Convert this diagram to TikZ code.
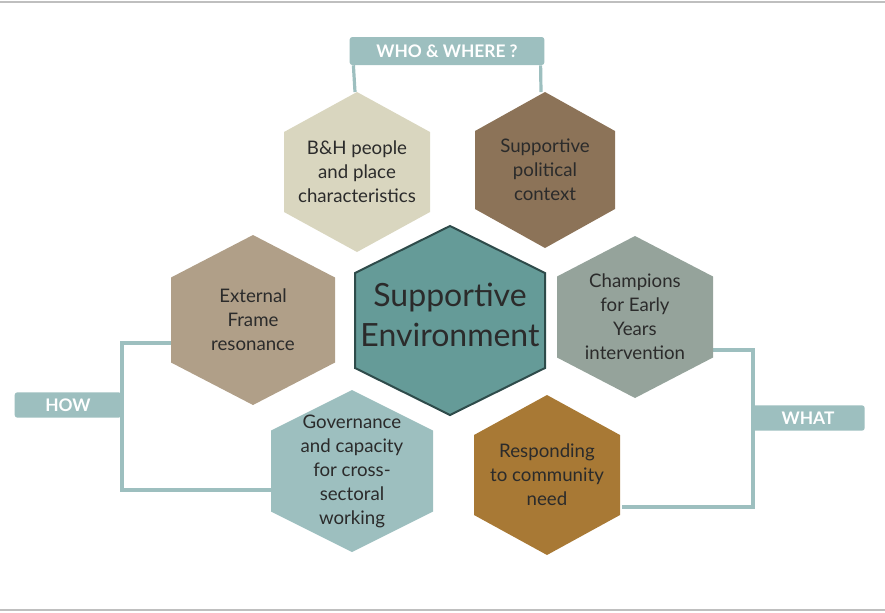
\documentclass[tikz,border=0pt]{standalone}
\usepackage{fontspec}
\setmainfont{Lato}
\usetikzlibrary{positioning,calc}
\definecolor{hexSand}{HTML}{D9D6BF}
\definecolor{hexBrown}{HTML}{8C7358}
\definecolor{hexTaupe}{HTML}{B09F88}
\definecolor{hexTeal}{HTML}{659B98}
\definecolor{hexTealDk}{HTML}{2E4B4A}
\definecolor{hexSage}{HTML}{95A39B}
\definecolor{hexIce}{HTML}{9DBFBF}
\definecolor{hexOchre}{HTML}{A87935}
\definecolor{txtDark}{HTML}{2B2B2B}
\tikzset{
  hextext/.style={align=center, font=\fontsize{14}{18}\selectfont, text=txtDark},
  tagbox/.style={fill=hexIce, text=white, rounded corners=2pt,
                 font=\fontsize{13}{15}\selectfont\bfseries, inner sep=0pt},
  linkline/.style={draw=hexIce, line width=2.4pt},
}
% name, x, y, half width, half height, fill, text
\newcommand\hexcell[7]{%
  \fill[#6] (#2,#3-#5) -- (#2+#4,#3-#5/2) -- (#2+#4,#3+#5/2) -- (#2,#3+#5)
    -- (#2-#4,#3+#5/2) -- (#2-#4,#3-#5/2) -- cycle;
  \node[hextext] (#1) at (#2,#3) {#7};}

\begin{document}
\begin{tikzpicture}[x=0.75pt, y=-0.75pt]
\useasboundingbox (0,0) rectangle (885,612);
\draw[gray!50, line width=0.8pt] (0,2) -- (885,2);
\draw[gray!50, line width=0.8pt] (0,610) -- (885,610);

%% Tags
\node[tagbox, minimum width=146pt, minimum height=21pt] (who)  at (447,51)  {WHO \& WHERE ?};
\node[tagbox, minimum width=80pt, minimum height=19pt]  (how)  at (68,405)  {HOW};
\node[tagbox, minimum width=85pt, minimum height=19pt]  (what) at (808,418) {WHAT};

%% Connectors
\coordinate (whoL) at (355,92);  \coordinate (whoR) at (541,92);
\draw[linkline] (who.south west) ++(4,0) -- (whoL);
\draw[linkline] (who.south east) ++(-4,0) -- (whoR);
\coordinate (howT) at (172,343); \coordinate (howB) at (271,490);
\draw[linkline] (howT) -- (122,343) -- (122,490) -- (howB);
\coordinate (whatT) at (713,350); \coordinate (whatB) at (622,507);
\draw[linkline] (whatT) -- (753,350) -- (753,507) -- (whatB);

%% Hexagons
\hexcell{bh}{357}{172}{73}{80}{hexSand}{B\&H people\\and place\\characteristics}
\hexcell{pol}{545}{170}{70}{78}{hexBrown}{Supportive\\political\\context}
\hexcell{ext}{253}{320}{82}{85}{hexTaupe}{External\\Frame\\resonance}
\hexcell{chm}{635}{317}{78}{81}{hexSage}{Champions\\for Early\\Years\\intervention}
\hexcell{gov}{352}{471}{81}{81}{hexIce}{Governance\\and capacity\\for cross-\\sectoral\\working}
\hexcell{res}{547}{475}{73}{80}{hexOchre}{Responding\\to community\\need}
\fill[hexTeal, draw=hexTealDk, line width=1.5pt] (450,226) -- (545,273) -- (545,368)
  -- (450,415) -- (355,368) -- (355,273) -- cycle;
\node[hextext, font=\fontsize{24}{30}\selectfont] (env) at (450,315) {Supportive\\Environment};
\end{tikzpicture}
\end{document}
